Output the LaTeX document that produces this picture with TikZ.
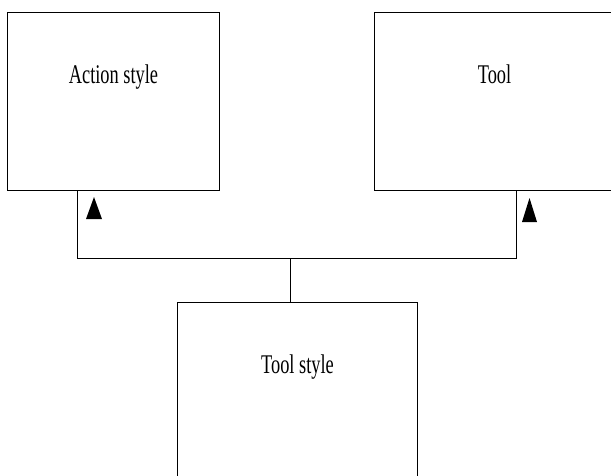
\documentclass[tikz,border=0pt]{standalone}
\usepackage{fontspec}
\setmainfont{Liberation Serif}
\newcommand\boxlabel[1]{\scalebox{0.68}[1]{\fontsize{27}{30}\selectfont #1}}
\tikzset{
  classbox/.style={draw=black, line width=1pt, rectangle, inner sep=0pt,
    minimum width=#1, text height=71pt, text depth=107pt},
  wire/.style={draw=black, line width=0.9pt},
  arrowfill/.style={fill=black}
}
\begin{document}
\begin{tikzpicture}[x=1pt, y=-1pt]
  \useasboundingbox (0,0) rectangle (611,475);
  \fill[white] (0,0) rectangle (611,475);

  % class boxes
  \node[classbox=212pt, anchor=north west] (act) at (7,12) {\boxlabel{Action style}};
  \node[classbox=240pt, anchor=north west] (tool) at (374,12) {\boxlabel{Tool}};
  \node[classbox=240pt, anchor=north west] (ts) at (177,302) {\boxlabel{Tool style}};

  % connector bus
  \coordinate (bus-l) at (77,258);
  \coordinate (bus-m) at (290,258);
  \coordinate (bus-r) at (516,258);
  \draw[wire] (act.south -| bus-l) -- (bus-l) -- (bus-r) -- (bus-r |- tool.south);
  \draw[wire] (bus-m) -- (bus-m |- ts.north);

  % arrowheads
  \fill[arrowfill] (94,197) -- (102,219) -- (86,219) -- cycle;
  \fill[arrowfill] (529.5,198) -- (537,222) -- (522,222) -- cycle;
\end{tikzpicture}
\end{document}
